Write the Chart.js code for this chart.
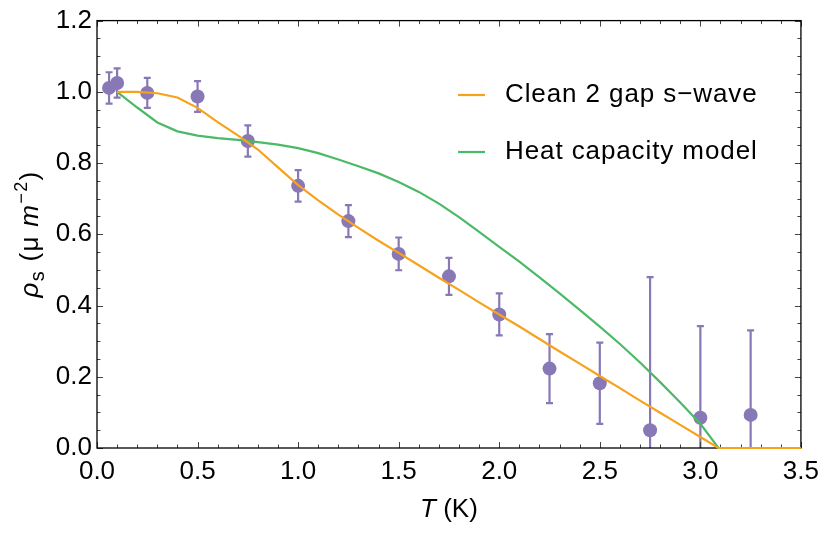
<!DOCTYPE html>
<html>
<head>
<meta charset="utf-8">
<script src="https://cdn.jsdelivr.net/npm/chart.js@4/dist/chart.umd.min.js"></script>
<style>
  html, body { margin: 0; padding: 0; background: #ffffff; }
  #wrap { width: 827px; height: 534px; }
</style>
</head>
<body>
<div id="wrap"><canvas id="c" width="827" height="534"></canvas></div>
<script>
// Measured superfluid density with symmetric error bars
const tempK  = [0.06, 0.10, 0.25, 0.50, 0.75, 1.00, 1.25, 1.50, 1.75, 2.00, 2.25, 2.50, 2.75, 3.00, 3.25];
const rhoS   = [1.011, 1.025, 0.997, 0.987, 0.862, 0.736, 0.637, 0.545, 0.482, 0.375, 0.223, 0.182, 0.050, 0.085, 0.093];
const rhoErr = [0.044, 0.041, 0.042, 0.043, 0.044, 0.044, 0.045, 0.046, 0.052, 0.059, 0.097, 0.114, 0.430, 0.257, 0.237];

// Model curves sampled on a common temperature grid
const curveT = [0.1, 0.2, 0.3, 0.4, 0.5, 0.6, 0.7, 0.8, 0.9, 1.0, 1.1, 1.2, 1.3, 1.4, 1.5, 1.6,
                1.7, 1.8, 1.9, 2.0, 2.1, 2.2, 2.3, 2.4, 2.5, 2.6, 2.7, 2.8, 2.9, 3.0, 3.09, 3.5];
const cleanTwoGap = [1.000, 1.000, 0.996, 0.984, 0.955, 0.915, 0.878, 0.838, 0.788, 0.738, 0.695, 0.655,
                     0.618, 0.582, 0.548, 0.513, 0.478, 0.444, 0.409, 0.375, 0.341, 0.306, 0.271, 0.237,
                     0.202, 0.168, 0.133, 0.099, 0.065, 0.031, 0.000, 0.000];
const heatCapacity = [1.000, 0.956, 0.914, 0.889, 0.877, 0.870, 0.865, 0.859, 0.852, 0.842, 0.828, 0.810,
                      0.791, 0.771, 0.747, 0.719, 0.686, 0.648, 0.607, 0.565, 0.523, 0.479, 0.434, 0.388,
                      0.341, 0.292, 0.240, 0.185, 0.128, 0.068, 0.000, 0.000];

const seriesNames = ['Clean 2 gap s\u2212wave', 'Heat capacity model'];
const xTickValues = [0, 0.5, 1.0, 1.5, 2.0, 2.5, 3.0, 3.5];
const yTickValues = [0, 0.2, 0.4, 0.6, 0.8, 1.0, 1.2];

const FONT = '"Liberation Sans", Arial, sans-serif';
const PURPLE = '#8878b6';
const ORANGE = '#f7a21d';
const GREEN = '#4cb968';

const toXY = (xs, ys) => xs.map((x, i) => ({ x: x, y: ys[i] }));

// Frame with inward ticks on all four sides, plus error bars under the markers
const framePlugin = {
  id: 'frame',
  beforeDatasetsDraw(chart) {
    const { ctx, chartArea: a, scales: { x, y } } = chart;
    ctx.save();
    // error bars
    ctx.beginPath();
    ctx.rect(a.left, a.top, a.right - a.left, a.bottom - a.top);
    ctx.clip();
    ctx.strokeStyle = PURPLE;
    ctx.lineWidth = 2.2;
    tempK.forEach((t, i) => {
      const px = x.getPixelForValue(t);
      const pTop = y.getPixelForValue(rhoS[i] + rhoErr[i]);
      const pBot = y.getPixelForValue(rhoS[i] - rhoErr[i]);
      ctx.beginPath();
      ctx.moveTo(px, pTop); ctx.lineTo(px, pBot);
      ctx.moveTo(px - 3.5, pTop); ctx.lineTo(px + 3.5, pTop);
      ctx.moveTo(px - 3.5, pBot); ctx.lineTo(px + 3.5, pBot);
      ctx.stroke();
    });
    ctx.restore();

    ctx.save();
    // ticks
    ctx.strokeStyle = '#444';
    ctx.lineWidth = 1;
    const major = 6, minor = 3.5;
    for (let k = 0; k <= 35; k++) {
      const v = k / 10;
      const px = Math.round(x.getPixelForValue(v)) + 0.5;
      const len = (k % 5 === 0) ? major : minor;
      ctx.beginPath();
      ctx.moveTo(px, a.bottom); ctx.lineTo(px, a.bottom - len);
      ctx.moveTo(px, a.top); ctx.lineTo(px, a.top + len);
      ctx.stroke();
    }
    for (let k = 0; k <= 24; k++) {
      const v = k * 0.05;
      const py = Math.round(y.getPixelForValue(v)) + 0.5;
      const len = (k % 4 === 0) ? major : minor;
      ctx.beginPath();
      ctx.moveTo(a.left, py); ctx.lineTo(a.left + len, py);
      ctx.moveTo(a.right, py); ctx.lineTo(a.right - len, py);
      ctx.stroke();
    }
    // frame
    ctx.strokeStyle = '#000';
    ctx.lineWidth = 1.3;
    ctx.strokeRect(a.left, a.top, a.right - a.left, a.bottom - a.top);
    ctx.restore();
  },
  afterDraw(chart) {
    const { ctx, chartArea: a } = chart;
    ctx.save();
    ctx.fillStyle = '#000';
    ctx.textBaseline = 'alphabetic';

    // x-axis title: T (K)
    const cx = (a.left + a.right) / 2;
    ctx.font = 'italic 26px ' + FONT;
    const wT = ctx.measureText('T').width;
    ctx.font = '26px ' + FONT;
    const wRest = ctx.measureText(' (K)').width;
    let sx = cx - (wT + wRest) / 2;
    ctx.font = 'italic 26px ' + FONT;
    ctx.fillText('T', sx, 517);
    ctx.font = '26px ' + FONT;
    ctx.fillText(' (K)', sx + wT, 517);

    // y-axis title: rho_s (mu m^-2)
    ctx.letterSpacing = '1.3px';
    const parts = [
      { t: '\u03c1', f: 'italic 26px ', dy: 0 },
      { t: 's', f: '20px ', dy: 6 },
      { t: ' (\u03bc ', f: '26px ', dy: 0 },
      { t: 'm', f: 'italic 26px ', dy: 0 },
      { t: '\u22122', f: '18px ', dy: -11 },
      { t: ')', f: '26px ', dy: 0 }
    ];
    let total = 0;
    parts.forEach(p => { ctx.font = p.f + FONT; p.w = ctx.measureText(p.t).width; total += p.w; });
    ctx.translate(38, 234);
    ctx.rotate(-Math.PI / 2);
    let px = -total / 2;
    parts.forEach(p => { ctx.font = p.f + FONT; ctx.fillText(p.t, px, p.dy); px += p.w; });
    ctx.restore();

    // legend
    ctx.save();
    ctx.font = '26px ' + FONT;
    ctx.letterSpacing = '0.9px';
    ctx.textBaseline = 'middle';
    ctx.fillStyle = '#000';
    const rows = [{ c: ORANGE, y: 95 }, { c: GREEN, y: 152 }];
    rows.forEach((r, i) => {
      ctx.strokeStyle = r.c;
      ctx.lineWidth = 2.2;
      ctx.beginPath();
      ctx.moveTo(458, r.y); ctx.lineTo(485, r.y);
      ctx.stroke();
      ctx.fillText(seriesNames[i], 505, r.y);
    });
    ctx.restore();
  }
};

new Chart(document.getElementById('c'), {
  type: 'scatter',
  data: {
    datasets: [
      {
        label: seriesNames[0],
        data: toXY(curveT, cleanTwoGap),
        showLine: true,
        borderColor: ORANGE,
        borderWidth: 2.2,
        pointRadius: 0,
        tension: 0,
        clip: 4,
        order: 0
      },
      {
        label: seriesNames[1],
        data: toXY(curveT, heatCapacity),
        showLine: true,
        borderColor: GREEN,
        borderWidth: 2.2,
        pointRadius: 0,
        tension: 0,
        clip: 4,
        order: 1
      },
      {
        label: 'data',
        data: toXY(tempK, rhoS),
        showLine: false,
        pointRadius: 7,
        pointBackgroundColor: PURPLE,
        pointBorderWidth: 0,
        borderColor: PURPLE,
        order: 2
      }
    ]
  },
  options: {
    responsive: false,
    animation: false,
    devicePixelRatio: 1,
    layout: { padding: { top: 12, right: 23, left: 0, bottom: 0 } },
    plugins: { legend: { display: false }, tooltip: { enabled: false } },
    scales: {
      x: {
        type: 'linear',
        min: 0, max: 3.5,
        grid: { display: false, drawTicks: false },
        border: { display: false },
        afterBuildTicks: s => { s.ticks = xTickValues.map(v => ({ value: v })); },
        afterFit: s => { s.height = 86; },
        ticks: {
          padding: 8,
          color: '#000',
          font: { family: FONT, size: 26 },
          maxRotation: 0,
          autoSkip: false,
          callback: v => Number(v).toFixed(1)
        }
      },
      y: {
        type: 'linear',
        min: 0, max: 1.2,
        grid: { display: false, drawTicks: false },
        border: { display: false },
        afterBuildTicks: s => { s.ticks = yTickValues.map(v => ({ value: v })); },
        afterFit: s => { s.width = 97; },
        ticks: {
          padding: 5,
          color: '#000',
          font: { family: FONT, size: 26 },
          autoSkip: false,
          callback: v => Number(v).toFixed(1)
        }
      }
    }
  },
  plugins: [framePlugin]
});
</script>
</body>
</html>
